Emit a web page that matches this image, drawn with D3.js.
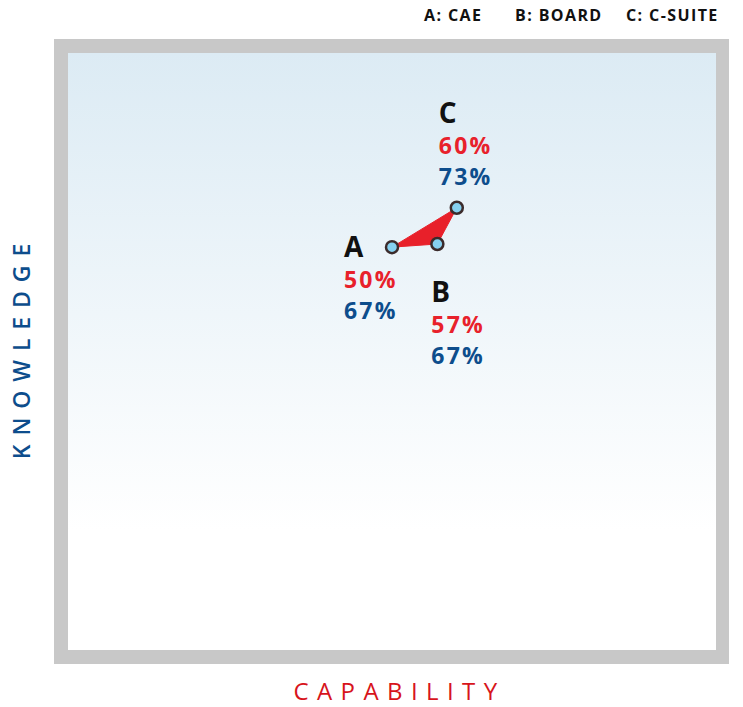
<!DOCTYPE html>
<html>
<head>
<meta charset="utf-8">
<script src="https://cdn.jsdelivr.net/npm/d3@7"></script>
<style>
body{margin:0;background:#fff;}
text{font-family:"Open Sans",Lato,sans-serif;}
.legend{font-size:16px;font-weight:700;fill:#111;letter-spacing:1.4px;}
.letter{font-size:28px;font-weight:700;fill:#111;letter-spacing:1px;}
.capVal{font-size:23px;font-weight:700;fill:#e8212b;letter-spacing:2.2px;}
.knowVal{font-size:23px;font-weight:700;fill:#0d4d8c;letter-spacing:2.2px;}
</style>
</head>
<body>
<script>
//wrap everything in a self-executing anonymous function
(function(){
	//chart data
	var groups=["A","B","C"]; //point letters
	var groupNames=["CAE","BOARD","C-SUITE"]; //legend names
	var capability=[50,57,60]; //x values (%)
	var knowledge=[66.7,67.2,73]; //y values (%)
	var capLabels=["50%","57%","60%"];
	var knowLabels=["67%","67%","73%"];

window.onload=setChart();

function setChart(){
	var width=743,
		height=707;

	var svg=d3.select("body")
		.append("svg")
		.attr("width",width)
		.attr("height",height);

	//gradient for plot background
	var defs=svg.append("defs");
	var grad=defs.append("linearGradient")
		.attr("id","bg")
		.attr("x1",0).attr("y1",0)
		.attr("x2",0).attr("y2",1);
	grad.append("stop").attr("offset","0%").attr("stop-color","#dcebf4");
	grad.append("stop").attr("offset","80%").attr("stop-color","#ffffff");

	//frame
	svg.append("rect")
		.attr("x",54).attr("y",39)
		.attr("width",675).attr("height",625)
		.style("fill","#c8c8c8");
	svg.append("rect")
		.attr("x",68).attr("y",53)
		.attr("width",648).attr("height",597)
		.style("fill","url(#bg)");

	//scales
	var xScale=d3.scaleLinear()
		.domain([0,100])
		.range([68,716]);
	var yScale=d3.scaleLinear()
		.domain([0,100])
		.range([664,39]);

	var pts=groups.map(function(g,i){
		return {key:g,x:xScale(capability[i]),y:yScale(knowledge[i]),i:i};
	});

	//red triangle joining the points
	svg.append("path")
		.datum(pts)
		.attr("d",d3.line().x(function(d){return d.x;}).y(function(d){return d.y;}).curve(d3.curveLinearClosed))
		.style("fill","#e8202a")
		.style("stroke","#e8202a")
		.style("stroke-width",1);

	//points
	svg.selectAll(".pt")
		.data(pts)
		.enter()
		.append("circle")
		.attr("class","pt")
		.attr("cx",function(d){return d.x;})
		.attr("cy",function(d){return d.y;})
		.attr("r",6)
		.style("fill","#86d0ef")
		.style("stroke","#3b2b2b")
		.style("stroke-width",2.5);

	//label offsets relative to each point [dx, dy of first baseline]
	var offsets=[[-48,10],[-6,58],[-18,-85]];
	var lineGap=31;

	var labels=svg.selectAll(".lbl")
		.data(pts)
		.enter()
		.append("g")
		.attr("class","lbl")
		.attr("transform",function(d){
			return "translate("+(d.x+offsets[d.i][0])+","+(d.y+offsets[d.i][1])+")";
		});
	labels.append("text").attr("class","letter").attr("x",0).attr("y",0).text(function(d){return d.key;});
	labels.append("text").attr("class","capVal").attr("y",lineGap).text(function(d){return capLabels[d.i];});
	labels.append("text").attr("class","knowVal").attr("y",lineGap*2).text(function(d){return knowLabels[d.i];});

	//legend across the top right
	var legendX=[424,515,626];
	svg.selectAll(".legend")
		.data(groups)
		.enter()
		.append("text")
		.attr("class","legend")
		.attr("x",function(d,i){return legendX[i];})
		.attr("y",21)
		.text(function(d,i){return d+": "+groupNames[i];});

	//axis titles
	svg.append("text")
		.attr("x",399.5)
		.attr("y",700)
		.attr("text-anchor","middle")
		.style("font-size","24px")
		.style("font-weight",400)
		.style("fill","#d7141b")
		.style("letter-spacing","8.4px")
		.text("CAPABILITY");
	svg.append("text")
		.attr("transform","translate(30,347) rotate(-90)")
		.attr("text-anchor","middle")
		.style("font-size","23px")
		.style("font-weight",600)
		.style("fill","#0d4d8c")
		.style("letter-spacing","8.9px")
		.text("KNOWLEDGE");
};

})();
</script>
</body>
</html>
